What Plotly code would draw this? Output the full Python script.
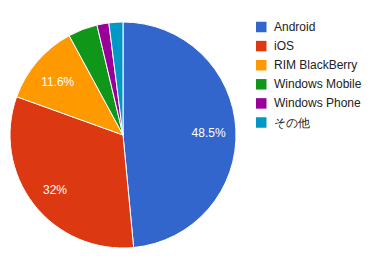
import plotly.graph_objects as go

labels = ["Android", "iOS", "RIM BlackBerry", "Windows Mobile", "Windows Phone", "その他"]
values = [48.5, 32.0, 11.6, 4.2, 1.7, 2.0]
slice_text = ["48.5%", "32%", "11.6%", "", "", ""]
colors = ["#3366cc", "#dc3912", "#ff9900", "#109618", "#990099", "#0099c6"]

W, H = 370, 256
cx, cy, r = 123, 135, 113
dom = dict(x=[(cx - r) / W, (cx + r) / W], y=[(H - cy - r) / H, (H - cy + r) / H])
tdy = 2.5  # small downward nudge of label ring
dom_txt = dict(x=dom["x"], y=[(H - cy - r - tdy) / H, (H - cy + r - tdy) / H])
FONT = "Liberation Sans, Arial"

fig = go.Figure()
fig.add_trace(go.Pie(
    labels=labels, values=values,
    textinfo="none",
    marker=dict(colors=colors, line=dict(color="white", width=1)),
    sort=False, direction="clockwise", rotation=0,
    hoverinfo="label+percent", showlegend=False, domain=dom,
))
# transparent ring overlay to place percentage labels at ~0.75 r (as in reference)
fig.add_trace(go.Pie(
    labels=labels, values=values, text=slice_text,
    textinfo="text", textposition="inside", insidetextorientation="horizontal",
    textfont=dict(color="white", size=12, family=FONT),
    marker=dict(colors=["rgba(0,0,0,0)"] * len(labels), line=dict(width=0)),
    hole=0.52, sort=False, direction="clockwise", rotation=0,
    hoverinfo="skip", showlegend=False, domain=dom_txt,
))

# legend
leg_x0, leg_y0, leg_dy, sw = 256, 27, 19.1, 10.5
for i, (lab, col) in enumerate(zip(labels, colors)):
    yc = leg_y0 + i * leg_dy
    fig.add_shape(type="rect", xref="paper", yref="paper",
                  x0=leg_x0 / W, x1=(leg_x0 + sw) / W,
                  y0=(H - yc - sw / 2) / H, y1=(H - yc + sw / 2) / H,
                  fillcolor=col, line=dict(width=0))
    fig.add_annotation(xref="paper", yref="paper", x=272 / W, y=(H - yc) / H,
                       xanchor="left", yanchor="middle", text=lab, showarrow=False,
                       font=dict(size=12, color="#222222", family=FONT))

fig.update_layout(
    width=W, height=H,
    margin=dict(l=0, r=0, t=0, b=0, autoexpand=False),
    paper_bgcolor="white", plot_bgcolor="white",
    font=dict(family=FONT, size=12, color="#222222"),
    showlegend=False,
)

fig.write_html("out.html")
